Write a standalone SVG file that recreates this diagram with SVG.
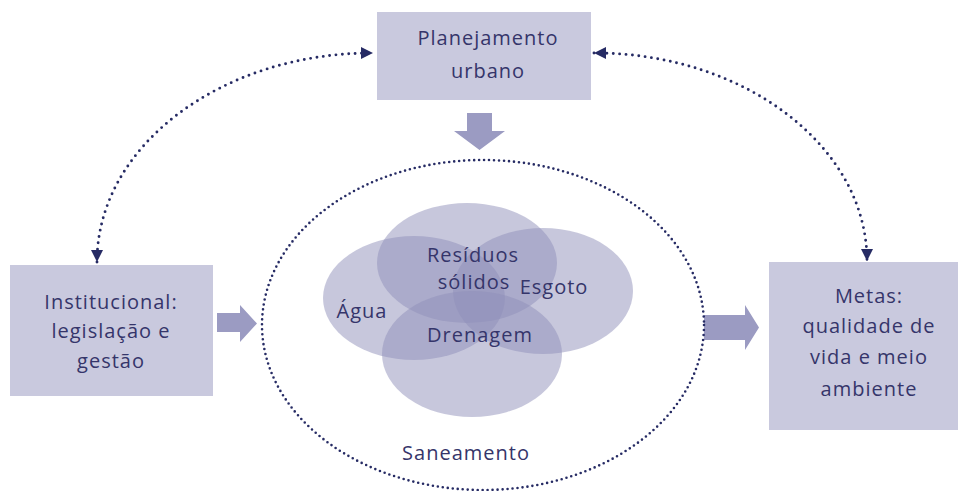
<svg xmlns="http://www.w3.org/2000/svg" width="960" height="491" viewBox="0 0 960 491">
<style>
.box{fill:#c9c9de}
.bigarrow{fill:#9b9bc2}
.t{font-family:"Open Sans","Noto Sans",sans-serif;font-size:20px;fill:#35356a;text-anchor:middle;letter-spacing:1px}
.dot{fill:none;stroke:#262b64;stroke-width:2.9;stroke-linecap:round;stroke-dasharray:0 6.4}
.dotE{fill:none;stroke:#262b64;stroke-width:2.6;stroke-linecap:round;stroke-dasharray:0 5}
.blob{fill:#8f8fba;fill-opacity:0.5}
</style>
<defs>
<marker id="ah" viewBox="0 0 10 10" refX="10" refY="5" markerWidth="12" markerHeight="12" markerUnits="userSpaceOnUse" orient="auto-start-reverse">
<path d="M0,0 L10,5 L0,10 z" fill="#262b64"/>
</marker>
</defs>
<rect width="960" height="491" fill="#ffffff"/>
<g id="connectors">
<path class="dot" d="M97,262 C97,147 220,53 373,53" marker-start="url(#ah)" marker-end="url(#ah)"/>
<path class="dot" d="M594,53 C745,53 867,147 867,261" marker-start="url(#ah)" marker-end="url(#ah)"/>
<path class="bigarrow" d="M467,113 L492,113 L492,131 L505,131 L479.5,150 L454,131 L467,131 z"/>
<path class="bigarrow" d="M217,313 L240,313 L240,305 L257,323.5 L240,342 L240,332 L217,332 z"/>
<path class="bigarrow" d="M704,315 L745,315 L745,305 L759,327.5 L745,350 L745,340 L704,340 z"/>
</g>
<g id="planejamento">
<rect class="box" x="377" y="12" width="214" height="88"/>
<text class="t" x="488" y="45">Planejamento</text>
<text class="t" x="488" y="78">urbano</text>
</g>
<g id="institucional">
<rect class="box" x="10" y="265" width="203" height="131"/>
<text class="t" x="111" y="309">Institucional:</text>
<text class="t" x="111" y="338">legislação e</text>
<text class="t" x="111" y="368">gestão</text>
</g>
<g id="metas">
<rect class="box" x="769" y="262" width="189" height="168"/>
<text class="t" x="869" y="303">Metas:</text>
<text class="t" x="869" y="333">qualidade de</text>
<text class="t" x="869" y="364">vida e meio</text>
<text class="t" x="869" y="396">ambiente</text>
</g>
<g id="saneamento">
<ellipse class="dotE" cx="483" cy="325" rx="221" ry="165"/>
<text class="t" x="466" y="460">Saneamento</text>
</g>
<g id="agua">
<ellipse class="blob" cx="414" cy="298" rx="91" ry="62"/>
</g>
<g id="residuos">
<ellipse class="blob" cx="467" cy="263" rx="90" ry="60"/>
</g>
<g id="esgoto">
<ellipse class="blob" cx="543" cy="291" rx="90" ry="63"/>
</g>
<g id="drenagem">
<ellipse class="blob" cx="472" cy="354" rx="90" ry="63"/>
</g>
<g id="labels">
<text class="t" x="473" y="262">Resíduos</text>
<text class="t" x="474" y="289">sólidos</text>
<text class="t" x="554" y="294">Esgoto</text>
<text class="t" x="362" y="318">Água</text>
<text class="t" x="480" y="342">Drenagem</text>
</g>
</svg>
